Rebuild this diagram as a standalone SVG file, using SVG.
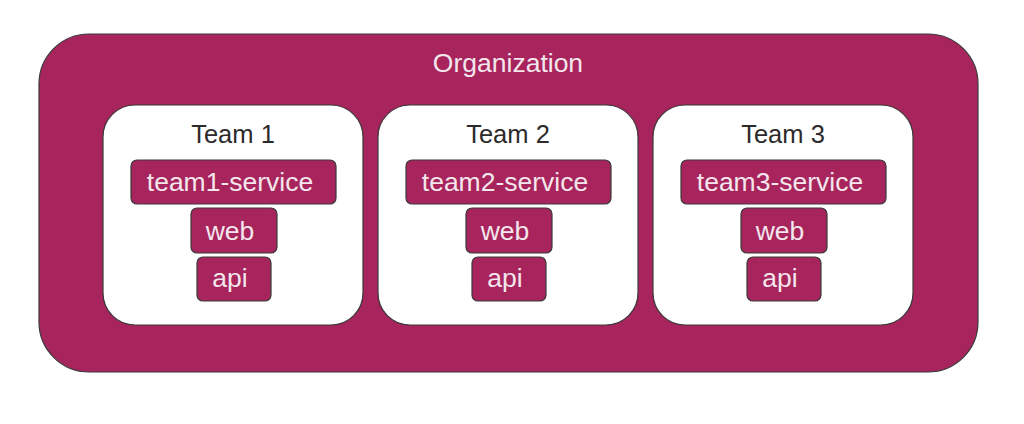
<svg xmlns="http://www.w3.org/2000/svg" width="1024" height="424" viewBox="0 0 1024 424">
<style>
.org{fill:#a8245c;stroke:#3a3a3a;stroke-width:1.2}
.team{fill:#ffffff;stroke:#3a3a3a;stroke-width:1.2}
.box{fill:#a8245c;stroke:#3a3a3a;stroke-width:1.2}
.lt{font-family:"Liberation Sans",Arial,sans-serif;font-size:26.5px;fill:#f3e6ec;text-anchor:middle}
.dk{font-family:"Liberation Sans",Arial,sans-serif;font-size:25.5px;fill:#2e2a2c;text-anchor:middle}
</style>
<rect width="1024" height="424" fill="#ffffff"/>
<g id="organization">
<rect class="org" x="39" y="34" width="939" height="338" rx="50" ry="50"/>
<text class="lt" x="508" y="72" style="font-size:26.5px">Organization</text>
</g>
<g id="team1">
<rect class="team" x="103" y="105" width="260" height="220" rx="32" ry="32"/>
<text class="dk" x="233" y="143">Team 1</text>
<g id="team1-service"><rect class="box" x="131" y="160" width="205" height="44" rx="6"/><text class="lt" x="230" y="191">team1-service</text></g>
<g id="team1-web"><rect class="box" x="191" y="208" width="86" height="45" rx="6"/><text class="lt" x="230" y="240">web</text></g>
<g id="team1-api"><rect class="box" x="197" y="257" width="74" height="44" rx="6"/><text class="lt" x="230" y="287">api</text></g>
</g>
<g id="team2">
<rect class="team" x="378" y="105" width="260" height="220" rx="32" ry="32"/>
<text class="dk" x="508" y="143">Team 2</text>
<g id="team2-service"><rect class="box" x="406" y="160" width="205" height="44" rx="6"/><text class="lt" x="505" y="191">team2-service</text></g>
<g id="team2-web"><rect class="box" x="466" y="208" width="86" height="45" rx="6"/><text class="lt" x="505" y="240">web</text></g>
<g id="team2-api"><rect class="box" x="472" y="257" width="74" height="44" rx="6"/><text class="lt" x="505" y="287">api</text></g>
</g>
<g id="team3">
<rect class="team" x="653" y="105" width="260" height="220" rx="32" ry="32"/>
<text class="dk" x="783" y="143">Team 3</text>
<g id="team3-service"><rect class="box" x="681" y="160" width="205" height="44" rx="6"/><text class="lt" x="780" y="191">team3-service</text></g>
<g id="team3-web"><rect class="box" x="741" y="208" width="86" height="45" rx="6"/><text class="lt" x="780" y="240">web</text></g>
<g id="team3-api"><rect class="box" x="747" y="257" width="74" height="44" rx="6"/><text class="lt" x="780" y="287">api</text></g>
</g>
<g id="connectors"/>
</svg>
